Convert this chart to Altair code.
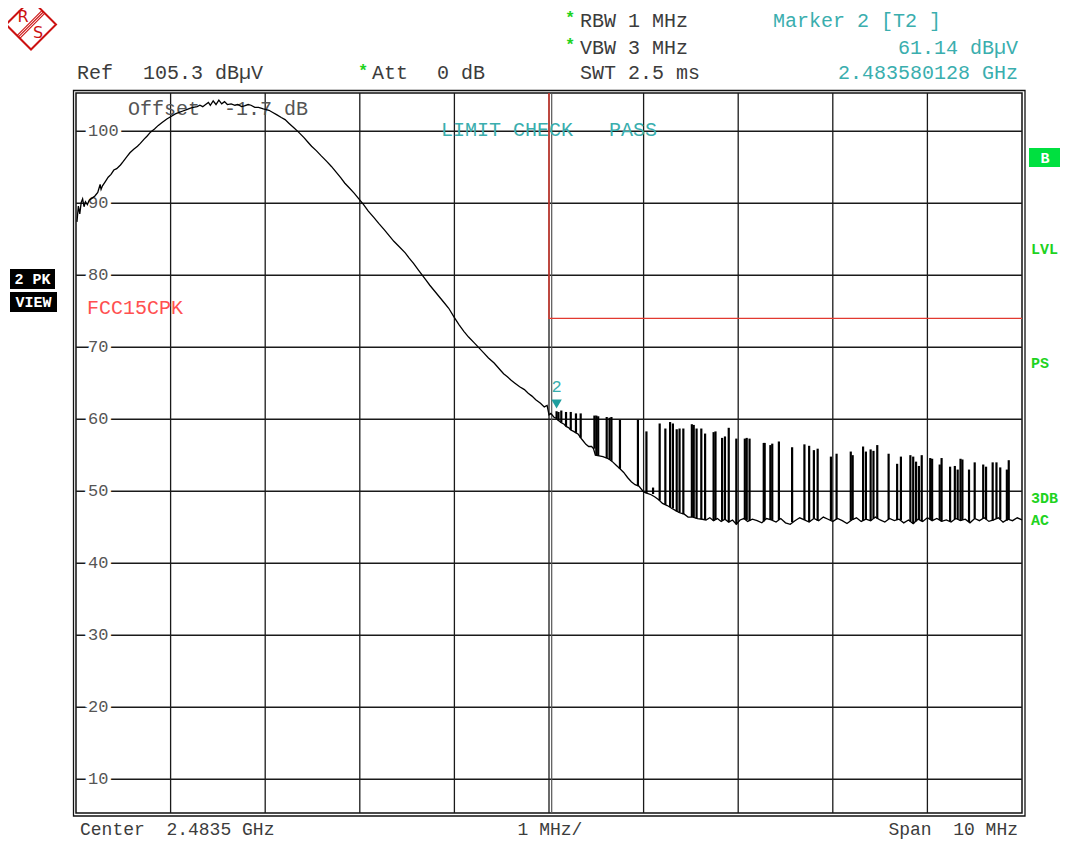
import altair as alt
import pandas as pd

# ---------------- data ----------------
# frequency offset from centre 2.4835 GHz, in MHz ; level in dBuV
trace_f = [-4.99, -4.975, -4.96, -4.945, -4.93, -4.915, -4.90, -4.88, -4.86, -4.83,
           -4.80, -4.77, -4.745, -4.735, -4.72, -4.69, -4.66, -4.63, -4.60, -4.57,
           -4.53, -4.50, -4.46, -4.43, -4.39, -4.35, -4.32, -4.28, -4.25, -4.21,
           -4.17, -4.13, -4.09, -4.04, -4.00, -3.95, -3.91, -3.87, -3.83, -3.79,
           -3.76, -3.72, -3.69, -3.66, -3.63, -3.60, -3.58, -3.55, -3.52, -3.49,
           -3.46, -3.43, -3.40, -3.36, -3.32, -3.29, -3.25, -3.22, -3.18, -3.15,
           -3.11, -3.07, -3.02, -2.96, -2.92, -2.88, -2.83, -2.79, -2.75, -2.70,
           -2.65, -2.59, -2.55, -2.51, -2.46, -2.41, -2.35, -2.30, -2.25, -2.20,
           -2.16, -2.11, -2.06, -2.01, -1.96, -1.91, -1.85, -1.80, -1.74, -1.69,
           -1.64, -1.58, -1.52, -1.48, -1.43, -1.38, -1.34, -1.30, -1.26, -1.21,
           -1.16, -1.11, -1.06, -1.00, -0.95, -0.90, -0.85, -0.79, -0.74, -0.69,
           -0.64, -0.58, -0.52, -0.48, -0.44, -0.40, -0.36, -0.31, -0.26, -0.22,
           -0.18, -0.14, -0.09, -0.05, -0.02, 0.00,
           0.02, 0.05, 0.08, 0.10, 0.13, 0.16, 0.18, 0.21, 0.23, 0.26,
           0.285, 0.31, 0.335, 0.36, 0.39, 0.42, 0.45, 0.47, 0.49, 0.53,
           0.57, 0.61, 0.64, 0.67, 0.71, 0.75, 0.79, 0.83, 0.87, 0.91,
           0.95, 1.00, 1.04, 1.08, 1.12, 1.16, 1.20, 1.25, 1.30, 1.34,
           1.38, 1.43, 1.47, 1.52, 1.57, 1.62, 1.66, 1.70, 1.74, 1.78,
           1.82, 1.86, 1.90, 1.94, 1.98, 2.02, 2.06, 2.10, 2.15, 2.20,
           2.25, 2.30, 2.35, 2.40, 2.45, 2.50, 2.55, 2.60, 2.65, 2.70,
           2.75, 2.80, 2.85, 2.90, 2.95, 3.00, 3.05, 3.10, 3.15, 3.20,
           3.25, 3.30, 3.35, 3.40, 3.45, 3.50, 3.55, 3.60, 3.65, 3.70,
           3.75, 3.80, 3.85, 3.90, 3.95, 4.00, 4.05, 4.10, 4.15, 4.20,
           4.25, 4.30, 4.35, 4.40, 4.45, 4.50, 4.55, 4.60, 4.65, 4.70,
           4.75, 4.80, 4.85, 4.90, 4.95, 5.00]
trace_db = [87.4, 89.6, 88.5, 90.1, 90.6, 89.5, 90.2, 89.8, 90.4, 90.7,
            91.0, 91.5, 92.6, 91.9, 92.4, 93.0, 93.6, 94.0, 94.6, 94.8,
            95.3, 95.8, 96.5, 97.0, 97.5, 97.9, 98.3, 98.9, 99.3, 99.9,
            100.3, 100.8, 101.2, 101.7, 102.0, 102.4, 102.6, 102.8, 103.0, 103.2,
            103.3, 103.4, 103.6, 103.4, 103.7, 104.0, 103.6, 104.2, 103.7, 104.3,
            103.8, 104.1, 103.7, 103.8, 103.6, 103.7, 103.4, 103.5, 103.7, 103.6,
            103.3, 103.3, 103.1, 102.9, 102.6, 102.3, 101.9, 101.6, 101.1, 100.5,
            99.9, 99.1, 98.5, 97.9, 97.3, 96.6, 95.8, 95.1, 94.3, 93.5,
            92.8, 92.1, 91.4, 90.6, 89.8, 88.9, 88.0, 87.2, 86.3, 85.5,
            84.7, 83.9, 83.1, 82.4, 81.6, 80.7, 80.0, 79.3, 78.6, 77.8,
            77.0, 76.2, 75.4, 74.1, 73.1, 72.2, 71.4, 70.6, 69.9, 69.2,
            68.5, 67.8, 66.9, 66.3, 65.9, 65.4, 65.0, 64.5, 64.1, 63.6,
            63.2, 62.7, 62.2, 61.7, 61.9, 60.6,
            60.8, 60.3, 60.1, 59.8, 59.5, 59.3, 59.0, 58.8, 58.5, 58.3,
            58.1, 57.9, 57.4, 57.0, 56.5, 56.2, 56.2, 55.9, 55.0, 54.9,
            54.8, 54.6, 54.4, 54.1, 53.6, 53.1, 52.6, 51.9, 51.3, 50.9,
            50.7, 49.9, 49.7, 49.5, 49.2, 48.8, 48.3, 48.0, 47.6, 47.3,
            47.0, 46.8, 46.4, 46.4, 46.2, 46.1, 46.0, 46.3, 45.9, 46.2,
            45.8, 46.1, 45.7, 46.0, 45.4, 46.0, 46.2, 45.8, 46.1, 45.9,
            45.6, 46.2, 46.0, 45.7, 46.2, 45.6, 45.4, 45.9, 46.3, 46.0,
            45.7, 46.2, 45.9, 46.4, 46.1, 45.8, 46.2, 45.9, 45.5, 46.0,
            46.3, 45.8, 46.1, 45.9, 46.4, 46.0, 45.7, 46.2, 45.9, 46.1,
            45.6, 46.0, 45.5, 46.1, 45.8, 46.3, 45.9, 46.2, 45.8, 46.0,
            45.7, 46.2, 45.9, 46.1, 45.6, 46.2, 45.9, 46.3, 45.8, 46.0,
            46.3, 45.7, 46.1, 45.9, 46.3, 46.0]

# narrow peak-detector spikes: position, top and foot level
spike_f = [0.08, 0.10, 0.13, 0.18, 0.23, 0.285, 0.335, 0.48, 0.50, 0.52,
           0.61, 0.64, 0.66, 0.75, 0.94, 1.03, 1.10, 1.17, 1.23, 1.28,
           1.31, 1.35, 1.38, 1.42, 1.51, 1.53, 1.56, 1.61, 1.65, 1.74,
           1.76, 1.83, 1.86, 1.90, 1.98, 2.07, 2.09, 2.12, 2.27, 2.28,
           2.34, 2.36, 2.43, 2.57, 2.70, 2.75, 2.80, 2.84, 2.98, 3.04,
           3.19, 3.21, 3.32, 3.35, 3.40, 3.43, 3.47, 3.59, 3.68, 3.72,
           3.82, 3.85, 3.88, 3.91, 3.94, 4.03, 4.05, 4.13, 4.15, 4.24,
           4.29, 4.32, 4.35, 4.37, 4.44, 4.50, 4.59, 4.62, 4.69, 4.73,
           4.77, 4.84, 4.86]
spike_top = [61.1, 61.0, 61.2, 61.0, 61.0, 60.8, 60.8, 60.5, 60.5, 60.4,
             60.3, 60.2, 60.3, 59.9, 59.9, 58.3, 50.5, 59.4, 58.7, 59.6,
             59.4, 58.6, 58.7, 58.7, 59.3, 59.2, 58.7, 58.7, 58.0, 58.2,
             58.3, 57.4, 57.6, 58.8, 57.3, 57.3, 57.4, 57.3, 56.7, 56.7,
             56.4, 56.6, 56.9, 56.1, 56.5, 56.3, 55.7, 55.9, 54.8, 55.2,
             55.5, 55.0, 56.2, 55.5, 55.8, 55.6, 56.4, 55.2, 53.8, 54.8,
             55.0, 54.8, 54.1, 53.5, 55.0, 54.6, 54.5, 53.7, 54.6, 53.4,
             53.5, 53.0, 54.5, 54.4, 53.0, 54.0, 53.7, 53.4, 54.0, 54.0,
             53.3, 53.0, 54.3]
spike_base = [60.1, 59.8, 59.5, 59.0, 58.5, 58.1, 57.4, 55.9, 55.0, 54.9,
              54.6, 54.4, 54.2, 53.1, 50.7, 49.7, 49.6, 48.7, 48.1, 47.8,
              47.6, 47.2, 47.0, 46.8, 46.4, 46.4, 46.2, 46.1, 46.0, 45.9,
              46.0, 45.9, 46.1, 45.7, 45.4, 46.1, 46.0, 45.9, 45.8, 46.0,
              46.0, 46.0, 46.0, 45.7, 46.0, 45.7, 46.2, 45.9, 46.0, 46.1,
              45.9, 46.0, 45.9, 46.1, 45.9, 46.2, 46.2, 46.1, 46.0, 46.0,
              45.8, 45.5, 45.8, 46.0, 45.8, 46.1, 45.9, 46.0, 45.8, 45.8,
              46.1, 46.1, 45.9, 46.0, 45.7, 46.2, 46.2, 46.1, 45.9, 46.2,
              46.1, 45.9, 46.0]

grid_db = [10, 20, 30, 40, 50, 60, 70, 80, 90, 100]
grid_labels = ["10", "20", "30", "40", "50", "60", "70", "80", "90", "100"]
grid_f = [-4, -3, -2, -1, 0, 1, 2, 3, 4]

limit_f = [0.0, 0.0, 5.0]
limit_db = [105.3, 74.0, 74.0]
limit_order = [0, 1, 2]

marker_f = [0.080128]
marker_db = [61.14]

F_DOMAIN = [-5, 5]
DB_DOMAIN = [5.3, 105.3]

# ---------------- layout / style ----------------
W, H = 946, 720
PX0, PY0 = 76, 93          # page position of the plot area
TOTAL_W, TOTAL_H = 1052, 832
MONO = "Liberation Mono"
TEAL = "#3aaeae"
RED = "#e23a30"
GREEN = "#1fd31f"
GRID = "#1a1a1a"
NB = "\u00a0"

xs = alt.Scale(domain=F_DOMAIN, nice=False, zero=False)
ys = alt.Scale(domain=DB_DOMAIN, nice=False, zero=False)
one = pd.DataFrame({"k": [0]})


def px(x):
    return x - PX0


def py(y):
    return y - PY0


def txt(s, x, y, color="#3c3c3c", size=20, align="left", weight="normal", font=MONO):
    return alt.Chart(one).mark_text(
        text=s.replace(" ", NB), align=align, baseline="middle", font=font,
        fontSize=size, color=color, fontWeight=weight
    ).encode(x=alt.value(px(x)), y=alt.value(py(y)))


def box(x1, x2, y1, y2, fill="white", stroke=None, sw=1.0, fill_opacity=1.0):
    kw = dict(fill=fill, fillOpacity=fill_opacity)
    if stroke:
        kw.update(stroke=stroke, strokeWidth=sw)
    return alt.Chart(one).mark_rect(**kw).encode(
        x=alt.value(px(x1)), x2=alt.value(px(x2)),
        y=alt.value(py(y1)), y2=alt.value(py(y2)))


def seg(x1, y1, x2, y2, color, sw):
    return alt.Chart(one).mark_rule(color=color, strokeWidth=sw).encode(
        x=alt.value(px(x1)), x2=alt.value(px(x2)),
        y=alt.value(py(y1)), y2=alt.value(py(y2)))


layers = []

# grid
vgrid = alt.Chart(pd.DataFrame({"f": grid_f})).mark_rule(color=GRID, strokeWidth=1.3).encode(
    x=alt.X("f:Q", scale=xs, axis=None), y=alt.value(0), y2=alt.value(H))
hgrid = alt.Chart(pd.DataFrame({"db": grid_db})).mark_rule(color=GRID, strokeWidth=1.5).encode(
    y=alt.Y("db:Q", scale=ys, axis=None), x=alt.value(0), x2=alt.value(W))
layers += [vgrid, hgrid]
# second line of the doubled centre line
layers.append(alt.Chart(one).mark_rule(color="#555", strokeWidth=1.2).encode(
    x=alt.value(W / 2 + 2.7), y=alt.value(0), y2=alt.value(H)))

# y labels with white halo
lab_df = pd.DataFrame({"db": grid_db, "lab": grid_labels})
layers.append(alt.Chart(lab_df).mark_text(
    align="left", baseline="middle", font=MONO, fontSize=17, color="white",
    stroke="white", strokeWidth=7).encode(
    y=alt.Y("db:Q", scale=ys, axis=None), x=alt.value(12), text="lab:N"))
layers.append(alt.Chart(lab_df).mark_text(
    align="left", baseline="middle", font=MONO, fontSize=17, color="#555").encode(
    y=alt.Y("db:Q", scale=ys, axis=None), x=alt.value(12), text="lab:N"))

# outer frame
layers.append(box(73.5, 1025, 90.5, 816, fill="white", stroke="#111", sw=1.3, fill_opacity=0))

# in-plot texts
layers.append(txt("Offset  -1.7 dB", 128, 109, color="#555"))
layers.append(txt("LIMIT CHECK   PASS", 441, 130, color=TEAL))
layers.append(txt("FCC15CPK", 87, 308, color="#ff5050"))

# limit line
layers.append(alt.Chart(pd.DataFrame({"f": limit_f, "db": limit_db, "i": limit_order}))
              .mark_line(color=RED, strokeWidth=1.4).encode(
    x=alt.X("f:Q", scale=xs, axis=None), y=alt.Y("db:Q", scale=ys, axis=None),
    order=alt.Order("i:Q")))

# trace
layers.append(alt.Chart(pd.DataFrame({"f": trace_f, "db": trace_db})).mark_line(
    color="black", strokeWidth=1.3).encode(
    x=alt.X("f:Q", scale=xs, axis=None), y=alt.Y("db:Q", scale=ys, axis=None)))
layers.append(alt.Chart(pd.DataFrame({"f": spike_f, "top": spike_top, "base": spike_base}))
              .mark_rule(color="black", strokeWidth=2.2).encode(
    x=alt.X("f:Q", scale=xs, axis=None), y=alt.Y("top:Q", scale=ys, axis=None),
    y2="base:Q"))

# marker
mk = pd.DataFrame({"f": marker_f, "db": marker_db})
layers.append(alt.Chart(mk).mark_point(shape="triangle-down", filled=True, size=110,
                                       color="#1f9e9e", opacity=1, yOffset=-7).encode(
    x=alt.X("f:Q", scale=xs, axis=None), y=alt.Y("db:Q", scale=ys, axis=None)))
layers.append(alt.Chart(mk).mark_text(text="2", font=MONO, fontSize=17, color=TEAL,
                                      dy=-24, align="center", baseline="middle").encode(
    x=alt.X("f:Q", scale=xs, axis=None), y=alt.Y("db:Q", scale=ys, axis=None)))

# header texts
layers += [
    txt("Ref", 77, 73), txt("105.3 dBµV", 143, 73),
    txt("*", 358, 71, color=GREEN, size=17, weight="bold"), txt("Att", 372, 73),
    txt("0 dB", 437, 73),
    txt("*", 565, 18, color=GREEN, size=17, weight="bold"), txt("RBW 1 MHz", 580, 21),
    txt("*", 565, 45, color=GREEN, size=17, weight="bold"), txt("VBW 3 MHz", 580, 48),
    txt("SWT 2.5 ms", 580, 73),
    txt("Marker 2 [T2 ]", 773, 21, color=TEAL),
    txt("61.14 dBµV", 1018, 48, color=TEAL, align="right"),
    txt("2.483580128 GHz", 1018, 73, color=TEAL, align="right"),
]

# footer
layers += [
    txt("Center  2.4835 GHz", 80, 830, size=18),
    txt("1 MHz/", 550, 830, size=18, align="center"),
    txt("Span  10 MHz", 1018, 830, size=18, align="right"),
]

# left status boxes
layers += [
    box(10, 55, 269, 289, fill="black"), txt("2 PK", 32.5, 279, color="white", size=15, weight="bold", align="center"),
    box(10, 57, 292, 312, fill="black"), txt("VIEW", 33.5, 302, color="white", size=15, weight="bold", align="center"),
]

# right status labels
layers += [
    box(1029, 1060, 148, 167, fill="#00e040"),
    txt("B", 1045, 158, color="white", size=15, weight="bold", align="center"),
    txt("LVL", 1031, 249, color=GREEN, size=15, weight="bold"),
    txt("PS", 1031, 363, color=GREEN, size=15, weight="bold"),
    txt("3DB", 1031, 498, color=GREEN, size=15, weight="bold"),
    txt("AC", 1031, 520, color=GREEN, size=15, weight="bold"),
]

# R&S logo
LOGO = "#cc1111"
layers.append(alt.Chart(one).mark_point(shape="diamond", size=2500, color=LOGO, filled=False,
                                        strokeWidth=2, opacity=1).encode(
    x=alt.value(px(31)), y=alt.value(py(24.5))))
for d in (-2.0, 0.0, 2.0):
    layers.append(seg(43.3 + d * 0.7, 12 + d * 0.7, 18.7 + d * 0.7, 36.7 + d * 0.7, LOGO, 1.1))
layers.append(txt("R", 23, 17, color=LOGO, size=16, align="center", font="DejaVu Sans"))
layers.append(txt("S", 38, 33, color=LOGO, size=16, align="center", font="DejaVu Sans"))

chart = alt.layer(*layers).properties(
    width=W, height=H,
    padding={"left": PX0 - 8, "top": PY0 - 8,
             "right": TOTAL_W - (PX0 - 8) - W, "bottom": TOTAL_H - (PY0 - 8) - H},
    autosize=alt.AutoSizeParams(type="none"),
    background="white",
).configure_view(stroke="#111", strokeWidth=1.5)

chart.save("out.html", embed_options={"renderer": "svg", "actions": False})
